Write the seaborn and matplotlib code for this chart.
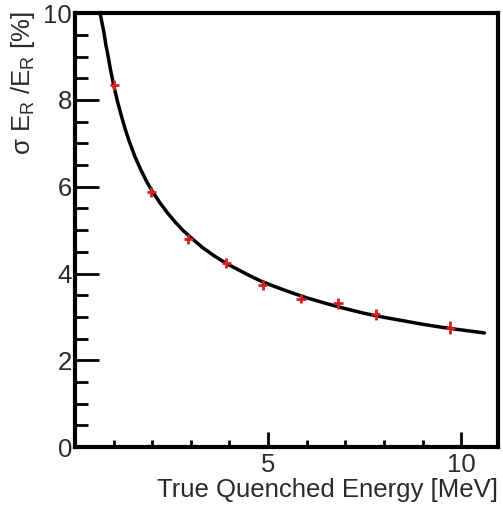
import numpy as np
import pandas as pd
import matplotlib
matplotlib.use('Agg')
import matplotlib.pyplot as plt
from matplotlib.ticker import MultipleLocator, FixedLocator
import seaborn as sns

energy = [1.02, 1.98, 2.93, 3.92, 4.86, 5.85, 6.81, 7.78, 9.72]
resolution = [8.34, 5.88, 4.79, 4.24, 3.74, 3.42, 3.31, 3.06, 2.75]
energy_err = [0.12, 0.12, 0.12, 0.12, 0.12, 0.12, 0.12, 0.12, 0.12]
resolution_err = [0.11, 0.11, 0.11, 0.11, 0.11, 0.11, 0.13, 0.13, 0.15]

# Fit curve
curve_x = [0.65, 0.70, 0.75, 0.80, 0.85, 0.92, 1.00, 1.10, 1.20, 1.30, 1.40, 1.55,
           1.70, 1.85, 2.00, 2.20, 2.40, 2.60, 2.80, 3.05, 3.30, 3.60, 3.90, 4.20,
           4.50, 4.85, 5.20, 5.60, 6.00, 6.50, 7.00, 7.50, 8.00, 8.50, 9.00,
           9.50, 10.00, 10.60]
curve_y = [10.00, 9.78, 9.56, 9.27, 9.05, 8.70, 8.35, 7.97, 7.64, 7.33, 7.06, 6.70,
           6.40, 6.13, 5.90, 5.63, 5.39, 5.18, 4.99, 4.79, 4.60, 4.41, 4.24, 4.10,
           3.96, 3.81, 3.69, 3.56, 3.44, 3.31, 3.19, 3.08, 2.99, 2.91, 2.83,
           2.76, 2.70, 2.63]

sns.set_theme(style='white')
plt.rcParams['font.family'] = ['Liberation Sans', 'DejaVu Sans']
plt.rcParams['mathtext.fontset'] = 'custom'
plt.rcParams['mathtext.rm'] = 'Liberation Sans'
plt.rcParams['mathtext.it'] = 'Liberation Sans'

TEXT_COLOR = '#2a2a2a'

fig = plt.figure(figsize=(5.03, 5.08), dpi=100)
ax = fig.add_axes([0.149, 0.120, 0.841, 0.854])

curve = pd.DataFrame({'E': curve_x, 'res': curve_y})
sns.lineplot(data=curve, x='E', y='res', color='black', linewidth=2.5, ax=ax,
             sort=False, estimator=None)

ax.errorbar(energy, resolution, xerr=energy_err, yerr=resolution_err, fmt='none',
            ecolor='#d42020', elinewidth=2, capsize=0, zorder=3)

ax.set_xlim(0, 10.95)
ax.set_ylim(0, 10)

ax.xaxis.set_major_locator(FixedLocator([5, 10]))
ax.xaxis.set_minor_locator(MultipleLocator(1))
ax.yaxis.set_major_locator(MultipleLocator(2))
ax.yaxis.set_minor_locator(MultipleLocator(0.5))
ax.tick_params(axis='both', which='both', direction='in', color='black', width=2,
               labelsize=18.5, labelcolor=TEXT_COLOR, bottom=True, left=True,
               top=False, right=False)
ax.tick_params(axis='y', which='major', length=17, pad=2)
ax.tick_params(axis='y', which='minor', length=9)
ax.tick_params(axis='x', which='major', length=11, pad=4)
ax.tick_params(axis='x', which='minor', length=5)

for side in ['left', 'bottom', 'top', 'right']:
    ax.spines[side].set_color('black')
    ax.spines[side].set_linewidth(3)

ax.set_xlabel('True Quenched Energy [MeV]', fontsize=18.5, color=TEXT_COLOR)
ax.xaxis.set_label_coords(1.0, -0.072)
ax.xaxis.label.set_horizontalalignment('right')

ax.set_ylabel('σ E$_\\mathrm{R}$ /E$_\\mathrm{R}$ [%]', fontsize=18.5, color=TEXT_COLOR)
ax.yaxis.set_label_coords(-0.09, 1.005)
ax.yaxis.label.set_horizontalalignment('right')

fig.savefig('out.png', dpi=100)
